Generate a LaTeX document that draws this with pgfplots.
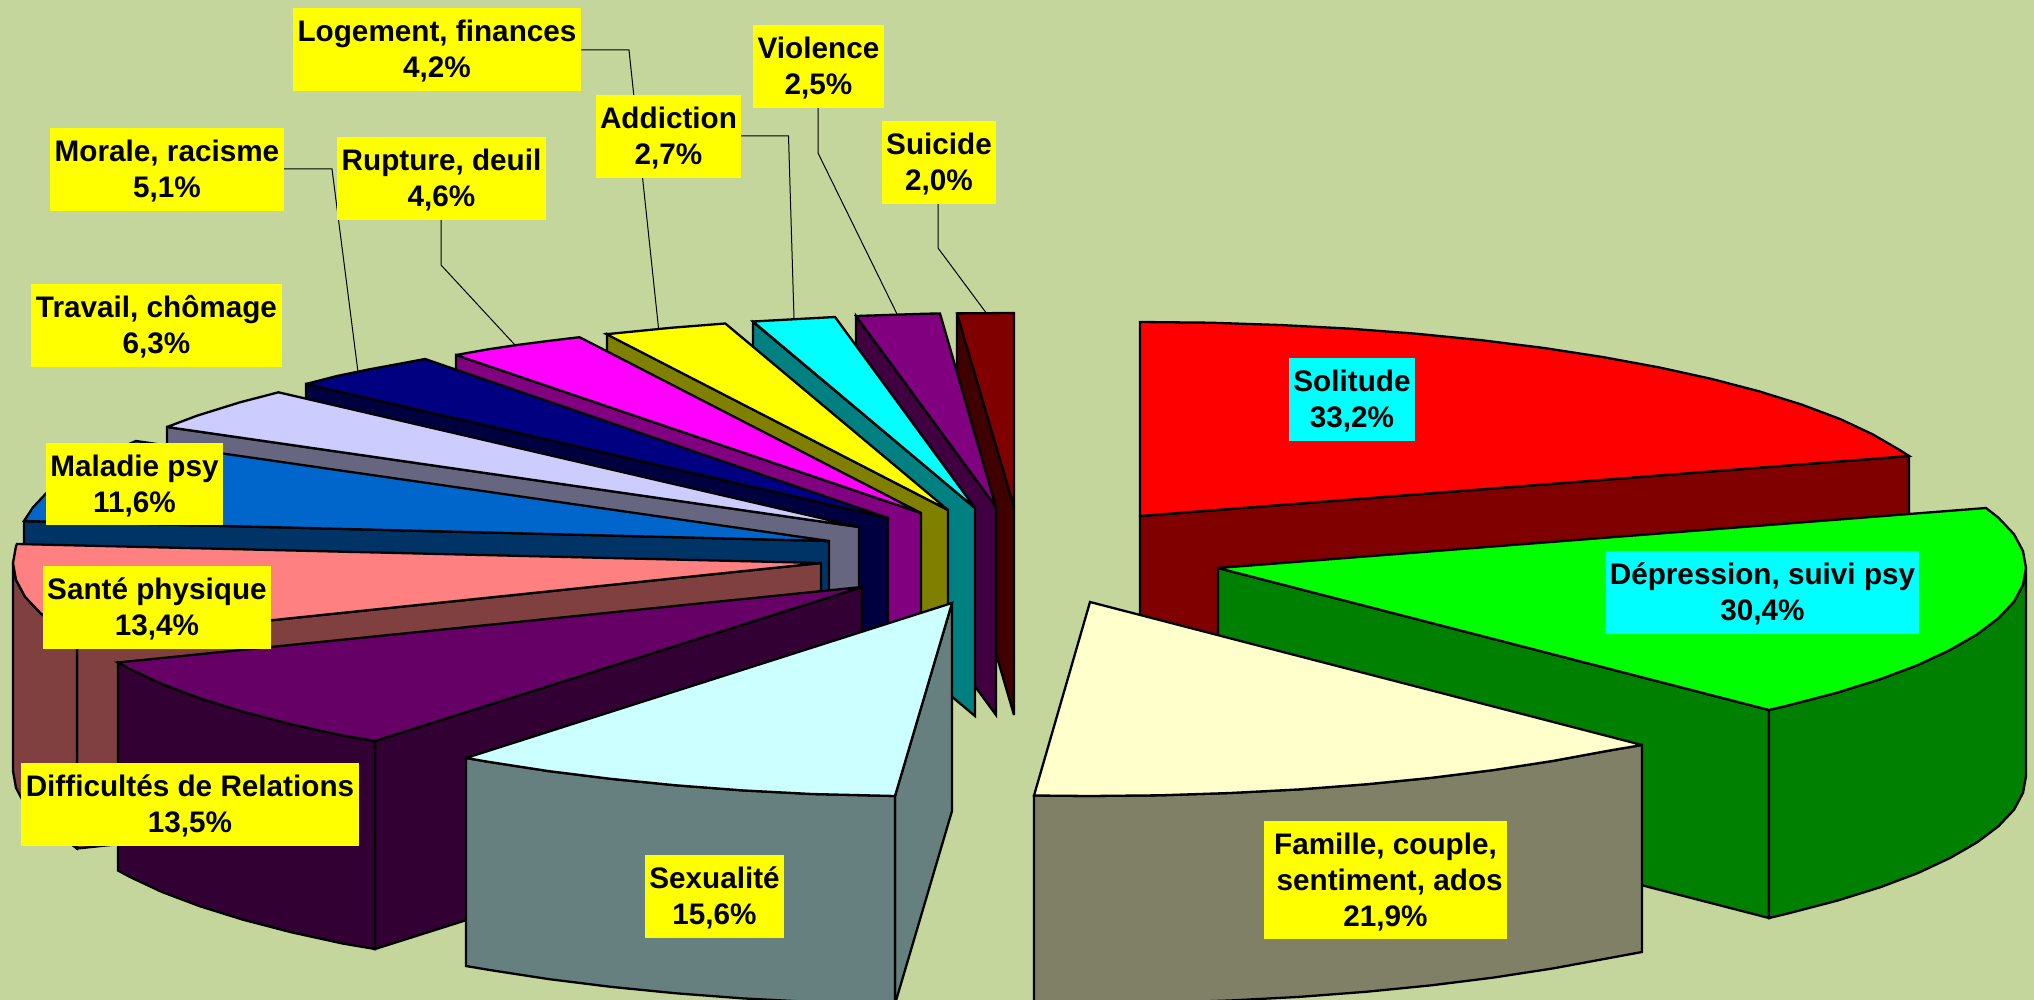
\documentclass[border=0pt]{standalone}
\usepackage{pgfplots}
\pgfplotsset{compat=1.18}
\usepackage{fontspec}
\setmainfont{Liberation Sans}
\definecolor{bgc}{HTML}{C5D69D}
\definecolor{labY}{HTML}{FFFF00}\definecolor{labC}{HTML}{00FFFF}
\definecolor{redT}{HTML}{FF0000}\definecolor{redS}{HTML}{800000}
\definecolor{greT}{HTML}{00FF00}\definecolor{greS}{HTML}{008000}
\definecolor{famT}{HTML}{FFFFCC}\definecolor{famS}{HTML}{808066}
\definecolor{sexT}{HTML}{CCFFFF}\definecolor{sexS}{HTML}{668080}
\definecolor{difT}{HTML}{660066}\definecolor{difS}{HTML}{330033}
\definecolor{sanT}{HTML}{FF8080}\definecolor{sanS}{HTML}{804040}
\definecolor{malT}{HTML}{0066CC}\definecolor{malS}{HTML}{003366}
\definecolor{traT}{HTML}{CCCCFF}\definecolor{traS}{HTML}{666680}
\definecolor{morT}{HTML}{000080}\definecolor{morS}{HTML}{000040}
\definecolor{rupT}{HTML}{FF00FF}\definecolor{rupS}{HTML}{800080}
\definecolor{logT}{HTML}{FFFF00}\definecolor{logS}{HTML}{808000}
\definecolor{addT}{HTML}{00FFFF}\definecolor{addS}{HTML}{008080}
\definecolor{vioT}{HTML}{800080}\definecolor{vioS}{HTML}{400040}
\definecolor{suiT}{HTML}{800000}\definecolor{suiS}{HTML}{400000}
\newcommand\lab[6]{\node[fill=#5,inner sep=0pt,
  minimum width={(#2-#1)*0.5pt},minimum height={(#4-#3)*0.5pt}]
  at (axis cs:{(#1+#2)/2},{(#3+#4)/2}) {};
  \node[inner sep=0pt,text=black,align=center,yshift=-0.8pt,
  font=\bfseries\fontsize{14.85}{18}\selectfont]
  at (axis cs:{(#1+#2)/2},{(#3+#4)/2}) {#6};}
\pgfplotsset{face/.style={fill=#1,draw=black,line width=1.15pt,line join=miter,miter limit=4},
  leader/.style={draw=black,line width=0.5pt}}
\begin{document}
\begin{tikzpicture}
\begin{axis}[width=1017pt,height=500pt,scale only axis,hide axis,
  xmin=0,xmax=2034,ymin=0,ymax=1000,y dir=reverse,clip=true,clip bounding box=upper bound]
\addplot[fill=bgc,draw=none] coordinates {(0,0)(2034,0)(2034,1000)(0,1000)} --cycle;
% leaders
\addplot[leader] coordinates {(581,50)(629,50)(658.5,328)};
\addplot[leader] coordinates {(741,136)(788.5,136)(794,318)};
\addplot[leader] coordinates {(818,108)(818,153)(897,314)};
\addplot[leader] coordinates {(938,204)(938,248)(985.5,312)};
\addplot[leader] coordinates {(441,220)(441,265)(515,345)};
\addplot[leader] coordinates {(284,169)(332,169)(358,372)};
% Solitude
\addplot[face=redS] coordinates {(1140,516)(1909,456)(1909,664)(1140,724)} --cycle;
\addplot[face=redT] coordinates {(1140,516)(1140,322)(1210,322.7)(1280,325)(1349,328.6)(1416,333.7)(1481.5,340.2)(1544,348)(1603,357.1)(1659,367.4)(1711,378.8)(1759,391.3)(1802,404.7)(1840,419)(1872,434)(1899,449.6)(1909,456)} --cycle;
% Depression
\addplot[face=greS] coordinates {(1218,568)(1769,710)(1769,918)(1218,776)} --cycle;
\addplot[face=greS] coordinates {(2026,568)(2023,584.9)(2014,601.7)(1998.5,618.2)(1977,634.4)(1950,650)(1918,665)(1880,679.3)(1837,692.7)(1789,705.2)(1769,710)(1769,918)(1789,913.2)(1837,900.7)(1880,887.3)(1918,873)(1950,858)(1977,842.4)(1998.5,826.2)(2014,809.7)(2023,792.9)(2026,776)} --cycle;
\addplot[face=greT] coordinates {(1218,568)(1986,508)(1998.5,517.8)(2014,534.3)(2023,551.1)(2026,568)(2023,584.9)(2014,601.7)(1998.5,618.2)(1977,634.4)(1950,650)(1918,665)(1880,679.3)(1837,692.7)(1789,705.2)(1769,710)} --cycle;
% Famille
\addplot[face=famS] coordinates {(1642,745)(1609,750.6)(1553,760.9)(1494,770)(1431.5,777.8)(1366,784.3)(1299,789.4)(1230,793)(1160,795.3)(1090,796)(1034,795.5)(1034,1003)(1090,1003.5)(1160,1002.8)(1230,1000.5)(1299,996.9)(1366,991.8)(1431.5,985.3)(1494,977.5)(1553,968.4)(1609,958.1)(1642,952)} --cycle;
\addplot[face=famT] coordinates {(1090,602)(1642,745)(1609,750.6)(1553,760.9)(1494,770)(1431.5,777.8)(1366,784.3)(1299,789.4)(1230,793)(1160,795.3)(1090,796)(1034,795.5)} --cycle;
% Suicide
\addplot[face=suiS] coordinates {(957,313)(1014,507)(1014,715)(957,521)} --cycle;
\addplot[face=suiT] coordinates {(1014,507)(957,313.4)(985,313.2)(1014,313)} --cycle;
% Violence
\addplot[face=vioS] coordinates {(856,316)(996,507)(996,715)(856,524)} --cycle;
\addplot[face=vioT] coordinates {(996,507)(856,316)(926,313.7)(940,313.5)} --cycle;
% Addiction
\addplot[face=addS] coordinates {(753,322)(975,508)(975,716)(753,530)} --cycle;
\addplot[face=addT] coordinates {(975,508)(753,321.5)(835,317)} --cycle;
% Logement
\addplot[face=logS] coordinates {(607,334)(948,510)(948,718)(607,542)} --cycle;
\addplot[face=logT] coordinates {(948,510)(606.5,334.2)(672,327.7)(725.3,323.5)} --cycle;
% Rupture
\addplot[face=rupS] coordinates {(456,355)(921,513)(921,721)(456,563)} --cycle;
\addplot[face=rupT] coordinates {(921,513)(456,355)(487,349.5)(517,345)(548,341)(579.5,337.2)} --cycle;
% Morale
\addplot[face=morS] coordinates {(306,384)(888,518)(888,726)(306,592)} --cycle;
\addplot[face=morT] coordinates {(888,518)(306,384)(337,376)(369,369.4)(425,359)} --cycle;
% Travail
\addplot[face=traS] coordinates {(167,427)(859,527)(859,735)(167,635)} --cycle;
\addplot[face=traT] coordinates {(859,527)(167,427)(197,415.7)(240,402.3)(278.5,392.3)} --cycle;
% Maladie
\addplot[face=malS] coordinates {(24,521)(829,541)(829,749)(24,729)} --cycle;
\addplot[face=malT] coordinates {(829,541)(24,521)(33,507.3)(48.5,490.8)(70,474.6)(97,459)(129,444)(136,441)} --cycle;
% Sante
\addplot[face=sanS] coordinates {(77,640.5)(821,563)(821,771)(77,848.5)} --cycle;
\addplot[face=sanS] coordinates {(13,563)(16,579.9)(25,596.7)(40.5,613.2)(62,629.4)(77,640.5)(77,848.5)(62,837.4)(40.5,821.2)(25,804.7)(16,787.9)(13,771)} --cycle;
\addplot[face=sanT] coordinates {(821,563)(77,640.5)(62,629.4)(40.5,613.2)(25,596.7)(16,579.9)(13,563)(16,546.1)(17,544)} --cycle;
% Difficultes
\addplot[face=difS] coordinates {(375,741)(862,587)(862,795)(375,949)} --cycle;
\addplot[face=difS] coordinates {(118,662.5)(130,669)(162,684)(200,698.3)(243,711.7)(291,724.2)(343,735.6)(375,741)(375,949)(343,943.6)(291,932.2)(243,919.7)(200,906.3)(162,892)(130,877)(118,870.5)} --cycle;
\addplot[face=difT] coordinates {(862,587)(118,662.5)(130,669)(162,684)(200,698.3)(243,711.7)(291,724.2)(343,735.6)(375,741)} --cycle;
% Sexualite
\addplot[face=sexS] coordinates {(895,796)(952,603)(952,811)(895,1004)} --cycle;
\addplot[face=sexS] coordinates {(895,796)(812,794)(743,790.4)(676,785.3)(610.5,778.8)(548,771)(489,761.9)(466,758)(466,966)(489,969.9)(548,979)(610.5,986.8)(676,993.3)(743,998.4)(812,1002)(895,1004)} --cycle;
\addplot[face=sexT] coordinates {(952,603)(895,796)(812,794)(743,790.4)(676,785.3)(610.5,778.8)(548,771)(489,761.9)(466,758)} --cycle;
% Labels
\lab{293}{581}{8}{91}{labY}{Logement, finances\\4,2\%}
\lab{753}{884}{25}{108}{labY}{Violence\\2,5\%}
\lab{596}{741}{95}{178}{labY}{Addiction\\2,7\%}
\lab{882}{996}{121}{204}{labY}{Suicide\\2,0\%}
\lab{50}{284}{128}{211}{labY}{Morale, racisme\\5,1\%}
\lab{337}{546}{137}{220}{labY}{Rupture, deuil\\4,6\%}
\lab{31}{282}{284}{367}{labY}{Travail, chômage\\6,3\%}
\lab{46}{223}{443}{525}{labY}{Maladie psy\\11,6\%}
\lab{43}{271}{566}{649}{labY}{Santé physique\\13,4\%}
\lab{21}{359}{763}{846}{labY}{Difficultés de Relations\\13,5\%}
\lab{645}{784}{855}{938}{labY}{Sexualité\\15,6\%}
\lab{1264}{1507}{821}{939}{labY}{Famille, couple,\\~sentiment, ados\\21,9\%}
\lab{1289}{1415}{358}{441}{labC}{Solitude\\33,2\%}
\lab{1606}{1919}{551}{634}{labC}{Dépression, suivi psy\\30,4\%}
\end{axis}
\end{tikzpicture}
\end{document}
